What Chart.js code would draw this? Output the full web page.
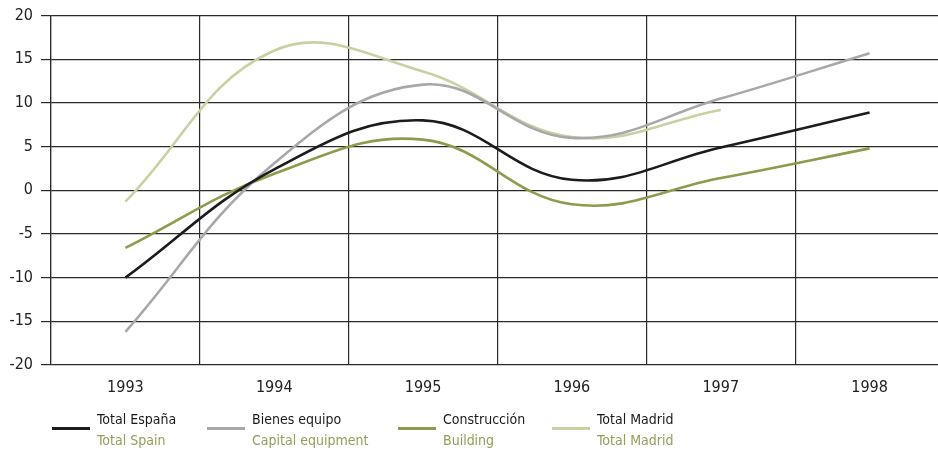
<!DOCTYPE html>
<html>
<head>
<meta charset="utf-8">
<script src="https://cdn.jsdelivr.net/npm/chart.js@4"></script>
<style>
  html, body { margin: 0; padding: 0; background: #fff; overflow: hidden; width: 938px; height: 450px; }
  #wrap { position: relative; width: 944px; height: 450px; }
  #chart { position: absolute; left: 0; top: -2px; }
  .leg { position: absolute; top: 409px; font-family: "DejaVu Sans Condensed", "DejaVu Sans", sans-serif; font-size: 14px; line-height: 21px; }
  .leg .sw { position: absolute; left: 0; top: 18px; width: 38px; height: 3px; }
  .leg .es { color: #1a1a1a; }
  .leg .en { color: #969c5a; }
</style>
</head>
<body>
<div id="wrap">
  <canvas id="chart" width="944" height="450"></canvas>
</div>
<script>
var years = ['1993', '1994', '1995', '1996', '1997', '1998'];
var totalEspana = [-10, 2.4, 8.0, 1.2, 4.9, 8.9];
var bienesEquipo = [-16.2, 3.1, 12.1, 6.0, 10.5, 15.7];
var construccion = [-6.6, 1.9, 5.8, -1.6, 1.4, 4.8];
var totalMadrid = [-1.3, 16.0, 13.6, 6.1, 9.2, null];
var yTicks = [-20, -15, -10, -5, 0, 5, 10, 15, 20];

var seriesNames = ['Total España', 'Bienes equipo', 'Construcción', 'Total Madrid'];
var seriesNamesEn = ['Total Spain', 'Capital equipment', 'Building', 'Total Madrid'];
var seriesColors = ['#1c1c1c', '#a8a8aa', '#8d9b4c', '#c9d0a2'];
var legendX = [52, 207, 398, 552];

var font = '"DejaVu Sans Condensed", "DejaVu Sans", sans-serif';

var ctx = document.getElementById('chart').getContext('2d');

var chart = new Chart(ctx, {
    type: 'line',
    data: {
        labels: years,
        datasets: [totalEspana, bienesEquipo, construccion, totalMadrid].map(function (d, i) {
            return {
                label: seriesNames[i],
                data: d,
                borderColor: seriesColors[i],
                borderWidth: 2.6,
                pointRadius: 0,
                tension: 0.4,
                fill: false
            };
        })
    },
    options: {
        responsive: false,
        animation: false,
        layout: { padding: { top: 6, right: 0, left: 0, bottom: 0 } },
        plugins: { legend: { display: false }, tooltip: { enabled: false } },
        scales: {
            x: {
                offset: true,
                grid: { offset: true, color: '#2a2a2a', lineWidth: 1.2, drawTicks: false },
                border: { display: false },
                ticks: { color: '#222', font: { family: font, size: 16 }, padding: 13 },
                afterFit: function (s) { s.height = 83; }
            },
            y: {
                min: -20,
                max: 20,
                afterBuildTicks: function (s) { s.ticks = yTicks.map(function (v) { return { value: v }; }); },
                grid: { color: '#2a2a2a', lineWidth: 1.2, tickLength: 10 },
                border: { color: '#2a2a2a', width: 1.2 },
                ticks: { color: '#222', font: { family: font, size: 16 }, padding: 8 },
                afterFit: function (s) { s.width = 51; }
            }
        }
    }
});

var wrap = document.getElementById('wrap');
seriesNames.forEach(function (n, i) {
    var d = document.createElement('div');
    d.className = 'leg';
    d.style.left = legendX[i] + 'px';
    d.innerHTML = '<div class="sw" style="background:' + seriesColors[i] + '"></div>' +
        '<div style="margin-left:45px"><div class="es">' + n + '</div><div class="en">' + seriesNamesEn[i] + '</div></div>';
    wrap.appendChild(d);
});
</script>
</body>
</html>
